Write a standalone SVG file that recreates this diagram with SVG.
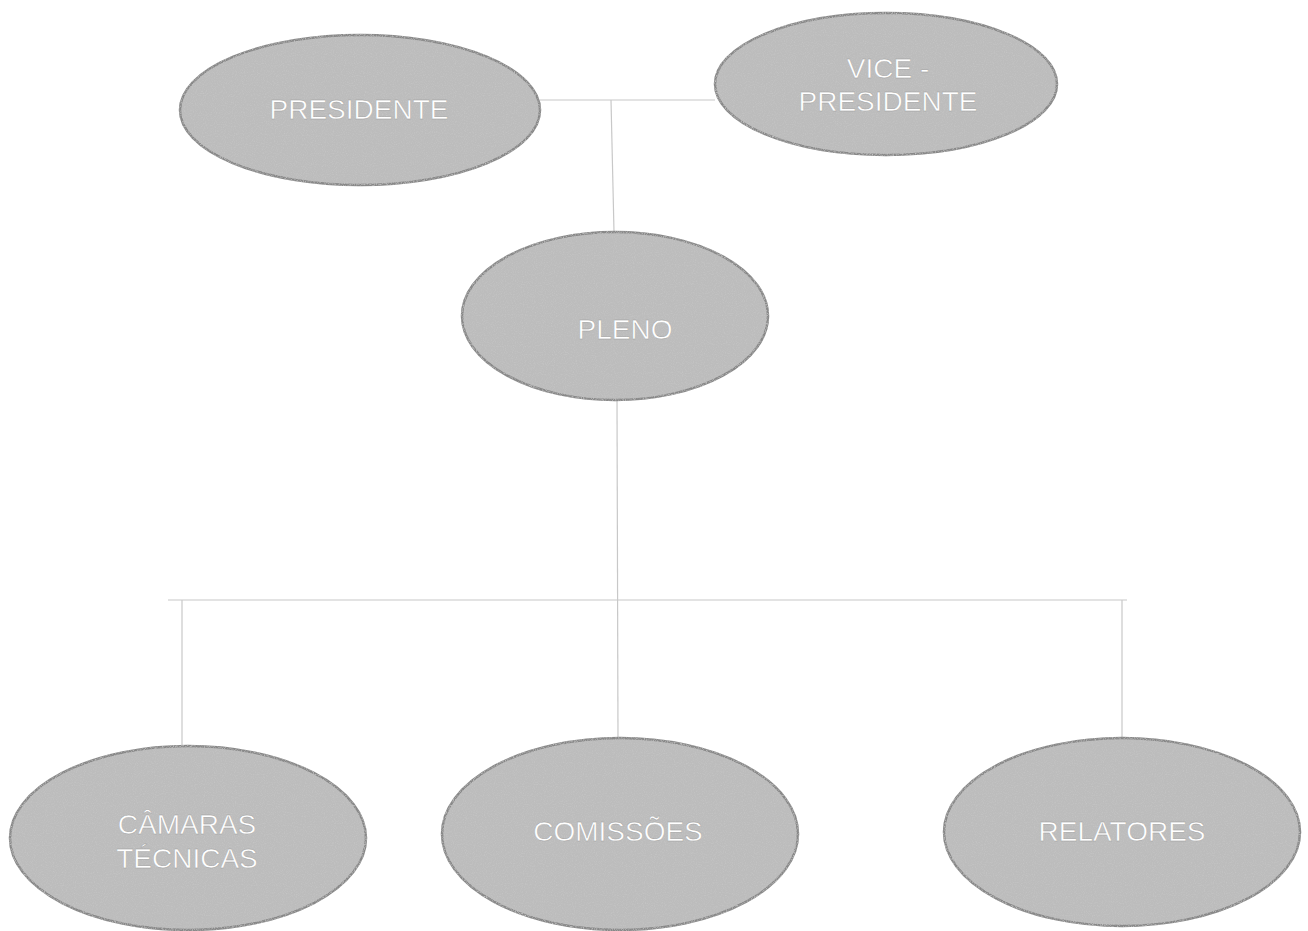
<svg xmlns="http://www.w3.org/2000/svg" width="1308" height="931" viewBox="0 0 1308 931">
<defs>
<filter id="grain" x="-5%" y="-5%" width="110%" height="110%">
<feTurbulence type="fractalNoise" baseFrequency="0.9" numOctaves="2" seed="3" result="n"/>
<feColorMatrix in="n" type="matrix" values="0 0 0 0 0.55  0 0 0 0 0.55  0 0 0 0 0.55  0 0 0 -2.2 1.25" result="spots"/>
<feComposite in="spots" in2="SourceGraphic" operator="in" result="clipped"/>
<feMerge><feMergeNode in="SourceGraphic"/><feMergeNode in="clipped"/></feMerge>
</filter>
</defs>
<style>
.node ellipse{fill:#bcbcbc;stroke:#888888;stroke-width:2.5;filter:url(#grain)}
.node text{font-family:"Liberation Sans",Arial,sans-serif;font-size:28px;fill:#ffffff;text-anchor:middle;stroke:#9a9a9a;stroke-width:0.4}
.conn line{stroke:#c8c8c8;stroke-width:1.2}
</style>
<rect width="1308" height="931" fill="#ffffff"/>
<g id="connectors" class="conn">
<line x1="540" y1="100" x2="715" y2="100"/>
<line x1="611" y1="100" x2="614" y2="232"/>
<line x1="617" y1="400" x2="618" y2="738"/>
<line x1="168" y1="600" x2="1127" y2="600"/>
<line x1="182" y1="600" x2="182" y2="747"/>
<line x1="1122" y1="600" x2="1122" y2="738"/>
</g>
<g id="presidente" class="node">
<ellipse cx="360" cy="110" rx="180" ry="75"/>
<text x="359" y="119">PRESIDENTE</text>
</g>
<g id="vice-presidente" class="node">
<ellipse cx="886" cy="84" rx="171" ry="71"/>
<text x="888" y="78">VICE -</text>
<text x="888" y="111">PRESIDENTE</text>
</g>
<g id="pleno" class="node">
<ellipse cx="615" cy="316" rx="153" ry="84"/>
<text x="625" y="339">PLENO</text>
</g>
<g id="camaras-tecnicas" class="node">
<ellipse cx="188" cy="838" rx="178" ry="92"/>
<text x="187" y="834">CÂMARAS</text>
<text x="187" y="868">TÉCNICAS</text>
</g>
<g id="comissoes" class="node">
<ellipse cx="620" cy="834" rx="178" ry="96"/>
<text x="618" y="841">COMISSÕES</text>
</g>
<g id="relatores" class="node">
<ellipse cx="1122" cy="832" rx="178" ry="94"/>
<text x="1122" y="841">RELATORES</text>
</g>
</svg>
